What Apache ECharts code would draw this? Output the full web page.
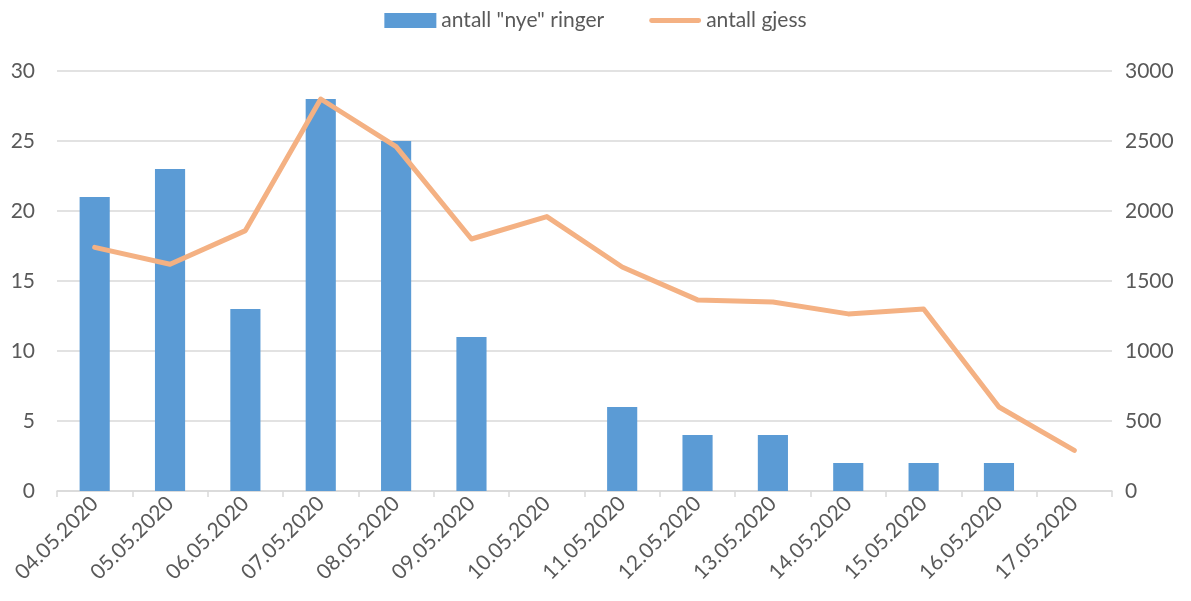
<!DOCTYPE html>
<html>
<head>
<meta charset="utf-8">
<script src="https://cdn.jsdelivr.net/npm/echarts@6/dist/echarts.min.js"></script>
<style>
  html, body { margin: 0; padding: 0; background: #fff; }
  #chart { width: 1191px; height: 601px; }
</style>
</head>
<body>
<div id="chart"></div>
<script>
// datoer
const dates = ['04.05.2020', '05.05.2020', '06.05.2020', '07.05.2020', '08.05.2020', '09.05.2020', '10.05.2020',
  '11.05.2020', '12.05.2020', '13.05.2020', '14.05.2020', '15.05.2020', '16.05.2020', '17.05.2020'];
// antall "nye" ringer (venstre akse)
const nyeRinger = [21, 23, 13, 28, 25, 11, 0, 6, 4, 4, 2, 2, 2, 0];
// antall gjess (høyre akse)
const gjess = [1740, 1620, 1860, 2800, 2460, 1800, 1960, 1600, 1365, 1350, 1265, 1300, 600, 290];

let chart = echarts.init(document.getElementById('chart'));

const font = 'Lato, "Open Sans", sans-serif';
const textColor = '#595959';

let option = {
  animation: false,
  textStyle: { fontFamily: font },
  legend: {
    top: 5,
    left: 'center',
    itemGap: 45,
    itemWidth: 52,
    itemHeight: 15,
    symbolKeepAspect: true,
    textStyle: { fontSize: 21, color: textColor, fontFamily: font },
    data: [
      { name: 'antall "nye" ringer', icon: 'rect' },
      { name: 'antall gjess', icon: 'path://M2,0 H50 A2.5,2.5 0 0 1 50,5 H2 A2.5,2.5 0 0 1 2,0 Z' }
    ]
  },
  grid: { left: 57, right: 79, top: 71, bottom: 110 },
  xAxis: {
    type: 'category',
    data: dates,
    axisLine: { lineStyle: { color: '#d9d9d9', width: 1.5 } },
    axisTick: { show: true, length: 6, lineStyle: { color: '#d9d9d9', width: 1.5 } },
    axisLabel: { rotate: 45, fontSize: 21, color: textColor, margin: 9, fontFamily: font }
  },
  yAxis: [
    {
      type: 'value',
      min: 0, max: 30, interval: 5,
      axisLine: { show: false },
      axisTick: { show: false },
      splitLine: { lineStyle: { color: '#d9d9d9', width: 1.5 } },
      axisLabel: { fontSize: 21, color: textColor, margin: 22, fontFamily: font }
    },
    {
      type: 'value',
      min: 0, max: 3000, interval: 500,
      axisLine: { show: false },
      axisTick: { show: false },
      splitLine: { show: false },
      axisLabel: { fontSize: 21, color: textColor, margin: 13, fontFamily: font, formatter: (v) => String(v) }
    }
  ],
  series: [
    {
      name: 'antall "nye" ringer',
      type: 'bar',
      yAxisIndex: 0,
      barWidth: '40%',
      itemStyle: { color: '#5b9bd5' },
      data: nyeRinger
    },
    {
      name: 'antall gjess',
      type: 'line',
      yAxisIndex: 1,
      symbol: 'none',
      lineStyle: { color: '#f4b183', width: 5, cap: 'round', join: 'round' },
      itemStyle: { color: '#f4b183' },
      data: gjess
    }
  ]
};

chart.setOption(option);

window.onresize = () => {
  chart.resize();
};
</script>
</body>
</html>
